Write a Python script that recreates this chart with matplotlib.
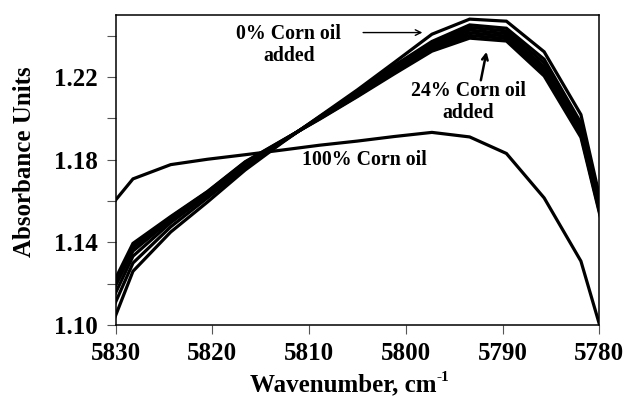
import matplotlib
matplotlib.use("Agg")
import matplotlib.pyplot as plt

plt.rcParams['font.family'] = ['Liberation Serif', 'DejaVu Serif']
plt.rcParams['font.weight'] = 'bold'

# wavenumbers of the spectral points (first and last fall outside the axes)
wavenumber = [5832.0, 5828.2, 5824.3, 5820.5, 5816.6, 5812.7, 5808.9, 5805.0,
              5801.2, 5797.3, 5793.4, 5789.6, 5785.7, 5781.9, 5778.0]

# absorbance for 0..24 % corn oil added
oil_0 = [1.0806, 1.1260, 1.1450, 1.1595, 1.1750, 1.1885, 1.2010, 1.2138,
         1.2270, 1.2407, 1.2480, 1.2470, 1.2322, 1.2018, 1.1215]
oil_4 = [1.0899, 1.1300, 1.1475, 1.1615, 1.1760, 1.1887, 1.2008, 1.2128,
         1.2255, 1.2372, 1.2452, 1.2436, 1.2286, 1.1978, 1.1200]
oil_8 = [1.0957, 1.1333, 1.1495, 1.1628, 1.1770, 1.1889, 1.2006, 1.2122,
         1.2245, 1.2362, 1.2440, 1.2423, 1.2268, 1.1962, 1.1190]
oil_12 = [1.1003, 1.1358, 1.1508, 1.1636, 1.1778, 1.1891, 1.2003, 1.2117,
          1.2237, 1.2353, 1.2427, 1.2410, 1.2250, 1.1948, 1.1180]
oil_16 = [1.1016, 1.1375, 1.1516, 1.1641, 1.1784, 1.1892, 1.2000, 1.2112,
          1.2229, 1.2344, 1.2414, 1.2398, 1.2235, 1.1934, 1.1170]
oil_20 = [1.1026, 1.1385, 1.1521, 1.1644, 1.1788, 1.1894, 1.1998, 1.2108,
          1.2222, 1.2335, 1.2401, 1.2386, 1.2220, 1.1920, 1.1165]
oil_24 = [1.1036, 1.1395, 1.1525, 1.1646, 1.1790, 1.1895, 1.1996, 1.2105,
          1.2215, 1.2325, 1.2388, 1.2374, 1.2205, 1.1908, 1.1160]
# pure corn oil
oil_100 = [1.1490, 1.1707, 1.1776, 1.1802, 1.1824, 1.1847, 1.1870, 1.1890,
           1.1912, 1.1932, 1.1910, 1.1830, 1.1615, 1.1309, 1.0685]

added_series = [oil_0, oil_4, oil_8, oil_12, oil_16, oil_20, oil_24]

xticks = [5830, 5820, 5810, 5800, 5790, 5780]
yticks = [1.10, 1.12, 1.14, 1.16, 1.18, 1.20, 1.22, 1.24]
ytick_labels = ['1.10', '', '1.14', '', '1.18', '', '1.22', '']

fig = plt.figure(figsize=(6.28, 4.01), dpi=100)
ax = fig.add_axes([0.184, 0.1895, 0.7703, 0.7731])

for series in added_series:
    ax.plot(wavenumber, series, color='black', lw=2.3, solid_joinstyle='miter')
ax.plot(wavenumber, oil_100, color='black', lw=2.3, solid_joinstyle='miter')

ax.set_xlim(5830, 5780)
ax.set_ylim(1.10, 1.25)
ax.set_xticks(xticks)
ax.set_xticklabels([str(t) for t in xticks])
ax.set_yticks(yticks)
ax.set_yticklabels(ytick_labels)
ax.tick_params(direction='out', length=6.5, width=0.8, color='#555555',
               labelsize=18, pad=6)
for side in ax.spines.values():
    side.set_linewidth(1.1)

# annotations
ax.text(5812.1, 1.2356, '0% Corn oil\nadded', ha='center', va='center',
        fontsize=14.3, linespacing=1.15)
ax.annotate('', xy=(5798.0, 1.2415), xytext=(5804.7, 1.2415),
            arrowprops=dict(arrowstyle='->', lw=1.0, color='black'))
ax.text(5793.55, 1.2078, '24% Corn oil\nadded', ha='center', va='center',
        fontsize=14.3, linespacing=1.15)
ax.annotate('', xy=(5791.6, 1.2335), xytext=(5792.3, 1.2171),
            arrowprops=dict(arrowstyle='->', lw=1.8, color='black'))
ax.text(5804.3, 1.1798, '100% Corn oil', ha='center', va='center',
        fontsize=14.3)

fig.text(25 / 628, 1 - 162 / 401, 'Absorbance Units', rotation=90,
         ha='center', va='center', fontsize=18)
xlab = fig.text(343 / 628, 1 - 385 / 401, 'Wavenumber, cm',
                ha='center', va='center', fontsize=18)
ax.annotate('-1', xy=(1, 0.55), xycoords=xlab, xytext=(0.5, 0),
            textcoords='offset points', ha='left', va='bottom', fontsize=11)

fig.savefig('out.png', dpi=100)
